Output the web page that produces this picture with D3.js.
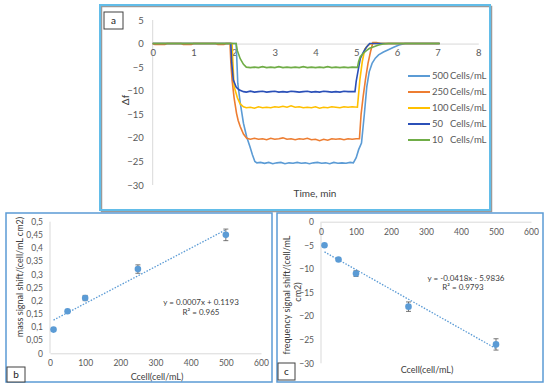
<!DOCTYPE html>
<html>
<head>
<meta charset="utf-8">
<script src="https://cdn.jsdelivr.net/npm/d3@7"></script>
<style>
  body { margin: 0; background: #fff; }
  svg text { font-family: Lato, "Open Sans", sans-serif; }
</style>
</head>
<body>
<div id="chartdiv"></div>
<script>
/* --- Data --- */

// panel a: frequency response, [time min, delta f]
let s500 = [[0,0],[0.5,0],[1,0],[1.5,0],[2.05,0],[2.07,-4],[2.09,-8.4],[2.15,-12.5],[2.23,-16.9],[2.31,-19.8],
  [2.39,-21.9],[2.45,-23.6],[2.51,-25.0],[2.56,-25.3],[2.65,-25.2],[2.75,-25.4],[2.85,-25.2],[2.95,-25.5],
  [3.05,-25.3],[3.15,-25.2],[3.25,-25.5],[3.35,-25.3],[3.45,-25.4],[3.55,-25.2],[3.65,-25.4],[3.75,-25.3],
  [3.85,-25.5],[3.95,-25.3],[4.05,-25.2],[4.15,-25.4],[4.25,-25.3],[4.35,-25.5],[4.45,-25.2],[4.55,-25.4],
  [4.65,-25.3],[4.75,-25.4],[4.85,-25.2],[4.93,-25.3],[5.0,-24.2],[5.06,-22.5],[5.13,-21.1],[5.2,-15],
  [5.26,-9.2],[5.32,-6.0],[5.39,-4.2],[5.47,-3.1],[5.55,-2.4],[5.67,-1.8],[5.79,-1.3],[5.92,-0.8],
  [6.05,-0.3],[6.2,0],[6.5,0],[7.05,0]]
let s250 = [[0,0],[0.05,-0.2],[0.3,-0.2],[0.35,0],[0.7,0],[0.75,-0.2],[0.95,-0.2],[1.0,0],[1.55,0],[1.6,-0.2],
  [1.75,-0.2],[1.8,0],[1.9,0],[1.92,-4],[1.95,-7.7],[2.0,-11.5],[2.06,-14.8],[2.1,-16.3],[2.15,-17.6],
  [2.23,-19.2],[2.31,-20.1],[2.4,-20.3],[2.5,-20.1],[2.6,-20.3],[2.7,-20.2],[2.8,-20.4],[2.9,-20.1],
  [3.0,-20.3],[3.1,-20.2],[3.2,-20.0],[3.3,-20.3],[3.4,-20.2],[3.5,-20.4],[3.6,-20.2],[3.7,-20.3],
  [3.8,-20.1],[3.9,-20.4],[4.0,-20.3],[4.1,-20.6],[4.2,-20.3],[4.3,-20.5],[4.4,-20.2],[4.5,-20.3],
  [4.6,-20.2],[4.7,-20.4],[4.8,-20.2],[4.9,-20.3],[5.0,-20.2],[5.08,-20.2],[5.12,-15],[5.17,-11.3],
  [5.23,-7.5],[5.29,-4.2],[5.35,-1.8],[5.41,0.2],[5.5,0.2],[5.6,0],[6.5,0],[7.05,0]]
let s100 = [[0,0],[1,0],[1.95,0],[1.97,-4],[2.0,-9.1],[2.08,-11.5],[2.15,-12.8],[2.23,-13.4],[2.3,-13.6],
  [2.4,-13.5],[2.5,-13.7],[2.6,-13.4],[2.7,-13.6],[2.8,-13.5],[2.9,-13.6],[3.0,-13.4],[3.1,-13.5],
  [3.2,-13.3],[3.3,-13.5],[3.4,-13.2],[3.5,-13.5],[3.6,-13.4],[3.7,-13.6],[3.8,-13.5],[3.9,-13.6],
  [4.0,-13.4],[4.1,-13.7],[4.2,-13.5],[4.3,-13.6],[4.4,-13.4],[4.5,-13.5],[4.6,-13.6],[4.7,-13.4],
  [4.8,-13.5],[4.9,-13.4],[5.03,-13.5],[5.09,-7.7],[5.15,-3.8],[5.21,-1.2],[5.3,-0.3],[5.38,0],[7.05,0]]
let s50 = [[0,0],[1,0],[1.92,0],[1.94,-4],[1.98,-7.7],[2.05,-9.2],[2.12,-9.8],[2.23,-10.2],[2.3,-10.3],
  [2.4,-10.1],[2.5,-10.3],[2.6,-10.2],[2.7,-10.1],[2.8,-10.3],[2.9,-10.2],[3.0,-10.1],[3.1,-10.3],
  [3.2,-10.2],[3.3,-10.3],[3.4,-10.1],[3.5,-10.2],[3.6,-10.3],[3.7,-10.2],[3.8,-10.1],[3.9,-10.3],
  [4.0,-10.2],[4.1,-10.3],[4.2,-10.1],[4.3,-10.2],[4.4,-10.3],[4.5,-10.2],[4.6,-10.3],[4.7,-10.1],
  [4.8,-10.2],[4.97,-10.2],[5.0,-8],[5.05,-5.6],[5.1,-3.2],[5.17,-1.9],[5.25,-0.8],[5.33,0],[7.05,0]]
let s10 = [[0,0],[1,0],[2.05,0],[2.08,-1.5],[2.15,-3.2],[2.23,-4.4],[2.3,-5.0],[2.4,-5.1],[2.5,-5.0],
  [2.6,-5.1],[2.7,-4.9],[2.8,-5.1],[2.9,-5.0],[3.0,-5.1],[3.1,-4.9],[3.2,-5.1],[3.3,-5.0],[3.4,-5.1],
  [3.5,-5.0],[3.6,-5.1],[3.7,-4.9],[3.8,-5.1],[3.9,-5.0],[4.0,-5.1],[4.1,-5.0],[4.2,-5.1],[4.3,-4.9],
  [4.4,-5.1],[4.5,-5.0],[4.6,-5.1],[4.7,-5.0],[4.8,-5.1],[4.9,-5.0],[5.03,-5.05],[5.06,-3.8],[5.1,-2.8],
  [5.17,-2.1],[5.25,-1.5],[5.33,-1.0],[5.45,-0.6],[5.55,-0.3],[5.66,-0.1],[5.8,0],[7.05,0]]

let seriesA = [s500, s250, s100, s50, s10]
let legendNums = ["500", "250", "100", "50", "10"]
let colorsA = ["#5b9bd5", "#ed7d31", "#ffc000", "#2b50b8", "#70ad47"]
let ticksAx = [0, 1, 2, 3, 4, 5, 6, 7, 8]
let ticksAy = [5, 0, -5, -10, -15, -20, -25, -30]

// panels b and c: calibration points
let conc = [10, 50, 100, 250, 500]
let massShift = [0.09, 0.16, 0.21, 0.32, 0.45]
let massErr = [0.003, 0.005, 0.01, 0.016, 0.022]
let freqShift = [-5, -8, -11, -18, -26]
let freqErr = [0.2, 0.3, 0.6, 1.0, 1.2]
let fitB = [0.0007, 0.1193]   // slope, intercept
let fitC = [-0.0418, -5.9836]
let ticksBx = [0, 100, 200, 300, 400, 500, 600]
let ticksBy = [0, 0.05, 0.1, 0.15, 0.2, 0.25, 0.3, 0.35, 0.4, 0.45, 0.5]
let ticksCy = [0, -5, -10, -15, -20, -25, -30]

/* -------------------- */

let tickColor = "#595959"
let titleColor = "#404040"
let gridColor = "#d9d9d9"
let ptColor = "#5b9bd5"

let svg = d3.select('#chartdiv')
  .append('svg')
  .attr("width", 550)
  .attr("height", 388)

function frame(x, y, w, h, color, sw) {
  svg.append("rect")
    .attr("x", x).attr("y", y).attr("width", w).attr("height", h)
    .attr("fill", "none").attr("stroke", color).attr("stroke-width", sw)
}

function letterBox(x, y, w, h, label) {
  svg.append("rect")
    .attr("x", x).attr("y", y).attr("width", w).attr("height", h)
    .attr("fill", "#fff").attr("stroke", "#404040").attr("stroke-width", 1)
  svg.append("text")
    .attr("x", x + w / 2).attr("y", y + h / 2)
    .attr("dy", "0.35em").attr("text-anchor", "middle")
    .attr("font-size", 10).attr("fill", "#222")
    .text(label)
}

/* ---------- panel a ---------- */
// shadow + frame
svg.append("rect").attr("x", 101.5).attr("y", 6.5).attr("width", 390).attr("height", 205)
  .attr("fill", "none").attr("stroke", "#9a9a9a").attr("stroke-width", 1.5)
frame(100, 5, 390, 205, "#62bde9", 2)
letterBox(104, 12, 19, 17, "a")

let xA = d3.scaleLinear().domain([0, 8]).range([152.7, 478.3])
let yA = d3.scaleLinear().domain([-30, 5]).range([185, 20])

svg.append("line")
  .attr("x1", xA(0)).attr("x2", xA(0)).attr("y1", yA(5)).attr("y2", yA(-30))
  .attr("stroke", gridColor)

let axA = svg.append("g")
  .attr("transform", `translate(0, ${yA(0)})`)
  .call(d3.axisBottom(xA).tickValues(ticksAx).tickSize(0).tickPadding(6))
axA.select(".domain").attr("stroke", gridColor)
axA.selectAll("text").attr("fill", tickColor).attr("font-size", 9.5)

let ayA = svg.append("g")
  .attr("transform", `translate(${xA(0)}, 0)`)
  .call(d3.axisLeft(yA).tickValues(ticksAy).tickSize(0).tickPadding(9))
ayA.select(".domain").remove()
ayA.selectAll("text").attr("fill", tickColor).attr("font-size", 9.5)

let lineA = d3.line().x(d => xA(d[0])).y(d => yA(d[1]))
seriesA.forEach((s, i) => {
  svg.append("path")
    .datum(s)
    .attr("d", lineA)
    .attr("fill", "none")
    .attr("stroke", colorsA[i])
    .attr("stroke-width", 1.6)
})

svg.append("text")
  .attr("transform", `translate(125, 100) rotate(-90)`)
  .attr("text-anchor", "middle").attr("dy", "0.35em")
  .attr("font-size", 10).attr("fill", titleColor)
  .text("Δf")

svg.append("text")
  .attr("x", 315).attr("y", 193).attr("dy", "0.35em")
  .attr("text-anchor", "middle")
  .attr("font-size", 10).attr("fill", titleColor)
  .text("Time, min")

let legendY = d3.scalePoint().domain(legendNums).range([76, 140])
legendNums.forEach((n, i) => {
  let y = legendY(n)
  svg.append("line")
    .attr("x1", 408).attr("x2", 430).attr("y1", y).attr("y2", y)
    .attr("stroke", colorsA[i]).attr("stroke-width", 2)
  svg.append("text")
    .attr("x", 432).attr("y", y).attr("dy", "0.35em")
    .attr("font-size", 9.5).attr("fill", tickColor)
    .text(n)
  svg.append("text")
    .attr("x", 450).attr("y", y).attr("dy", "0.35em")
    .attr("font-size", 9.5).attr("fill", tickColor)
    .text("Cells/mL")
})

/* ---------- scatter helper ---------- */
function scatter(xs, ys, vals, errs, fit) {
  let x0 = d3.min(conc), x1 = d3.max(conc)
  svg.append("line")
    .attr("x1", xs(x0)).attr("y1", ys(fit[0] * x0 + fit[1]))
    .attr("x2", xs(x1)).attr("y2", ys(fit[0] * x1 + fit[1]))
    .attr("stroke", ptColor).attr("stroke-width", 1.3)
    .attr("stroke-dasharray", "1.5,1.5")
  conc.forEach((c, i) => {
    let g = svg.append("g")
    let cx = xs(c)
    let top = ys(vals[i] + errs[i]), bot = ys(vals[i] - errs[i])
    g.append("line").attr("x1", cx).attr("x2", cx).attr("y1", top).attr("y2", bot)
      .attr("stroke", "#555").attr("stroke-width", 0.8)
    g.append("line").attr("x1", cx - 2.5).attr("x2", cx + 2.5).attr("y1", top).attr("y2", top)
      .attr("stroke", "#555").attr("stroke-width", 0.8)
    g.append("line").attr("x1", cx - 2.5).attr("x2", cx + 2.5).attr("y1", bot).attr("y2", bot)
      .attr("stroke", "#555").attr("stroke-width", 0.8)
    g.append("circle").attr("cx", cx).attr("cy", ys(vals[i])).attr("r", 3.3)
      .attr("fill", ptColor)
  })
}

/* ---------- panel b ---------- */
frame(6, 213, 266, 169, "#5b9bd5", 1.5)

let xB = d3.scaleLinear().domain([0, 600]).range([50, 261])
let yB = d3.scaleLinear().domain([0, 0.5]).range([353.3, 221.7])

svg.append("line")
  .attr("x1", xB(0)).attr("x2", xB(0)).attr("y1", yB(0.5)).attr("y2", yB(0))
  .attr("stroke", gridColor)

let axB = svg.append("g")
  .attr("transform", `translate(0, ${yB(0)})`)
  .call(d3.axisBottom(xB).tickValues(ticksBx).tickSize(0).tickPadding(7))
axB.select(".domain").attr("stroke", gridColor)
axB.selectAll("text").attr("fill", tickColor).attr("font-size", 8.5)

let ayB = svg.append("g")
  .attr("transform", `translate(${xB(0)}, 0)`)
  .call(d3.axisLeft(yB).tickValues(ticksBy).tickSize(0).tickPadding(7)
    .tickFormat(d => d3.format("~g")(d).replace(".", ",")))
ayB.select(".domain").remove()
ayB.selectAll("text").attr("fill", tickColor).attr("font-size", 8.5)

scatter(xB, yB, massShift, massErr, fitB)

svg.append("text")
  .attr("transform", `translate(20, 277) rotate(-90)`)
  .attr("text-anchor", "middle").attr("dy", "0.35em")
  .attr("font-size", 9).attr("fill", titleColor)
  .text("mass signal shift/(cell/mL cm2)")

svg.append("text")
  .attr("x", 157).attr("y", 377).attr("dy", "0.35em")
  .attr("text-anchor", "middle")
  .attr("font-size", 9).attr("fill", titleColor)
  .text("Ccell(cell/mL)")

svg.append("text")
  .attr("x", 201).attr("y", 302).attr("dy", "0.35em").attr("text-anchor", "middle")
  .attr("font-size", 8).attr("fill", titleColor)
  .text(`y = ${fitB[0]}x + ${fitB[1]}`)
svg.append("text")
  .attr("x", 201).attr("y", 312.5).attr("dy", "0.35em").attr("text-anchor", "middle")
  .attr("font-size", 8).attr("fill", titleColor)
  .text("R² = 0.965")

letterBox(7, 367, 18, 15, "b")

/* ---------- panel c ---------- */
frame(277, 213, 266, 169, "#5b9bd5", 1.5)

let xC = d3.scaleLinear().domain([0, 600]).range([321, 531])
let yC = d3.scaleLinear().domain([-30, 0]).range([363.3, 221.7])

svg.append("line")
  .attr("x1", xC(0)).attr("x2", xC(0)).attr("y1", yC(0)).attr("y2", yC(-30))
  .attr("stroke", gridColor)

let axC = svg.append("g")
  .attr("transform", `translate(0, ${yC(0)})`)
  .call(d3.axisBottom(xC).tickValues(ticksBx).tickSize(0).tickPadding(7))
axC.select(".domain").attr("stroke", gridColor)
axC.selectAll("text").attr("fill", tickColor).attr("font-size", 8.5)

let ayC = svg.append("g")
  .attr("transform", `translate(${xC(0)}, 0)`)
  .call(d3.axisLeft(yC).tickValues(ticksCy).tickSize(0).tickPadding(7))
ayC.select(".domain").remove()
ayC.selectAll("text").attr("fill", tickColor).attr("font-size", 8.5)

scatter(xC, yC, freqShift, freqErr, fitC)

svg.append("text")
  .attr("transform", `translate(287, 295) rotate(-90)`)
  .attr("text-anchor", "middle").attr("dy", "0.35em")
  .attr("font-size", 9).attr("fill", titleColor)
  .text("frequency signal shift/(cell/mL")
svg.append("text")
  .attr("transform", `translate(297.5, 292) rotate(-90)`)
  .attr("text-anchor", "middle").attr("dy", "0.35em")
  .attr("font-size", 9).attr("fill", titleColor)
  .text("cm2)")

svg.append("text")
  .attr("x", 427).attr("y", 370).attr("dy", "0.35em")
  .attr("text-anchor", "middle")
  .attr("font-size", 9).attr("fill", titleColor)
  .text("Ccell(cell/mL)")

svg.append("text")
  .attr("x", 466).attr("y", 278).attr("dy", "0.35em").attr("text-anchor", "middle")
  .attr("font-size", 8).attr("fill", titleColor)
  .text(`y = ${fitC[0]}x - ${Math.abs(fitC[1])}`)
svg.append("text")
  .attr("x", 463).attr("y", 287.5).attr("dy", "0.35em").attr("text-anchor", "middle")
  .attr("font-size", 8).attr("fill", titleColor)
  .text("R² = 0.9793")

letterBox(278, 363, 17, 17, "c")
</script>
</body>
</html>
